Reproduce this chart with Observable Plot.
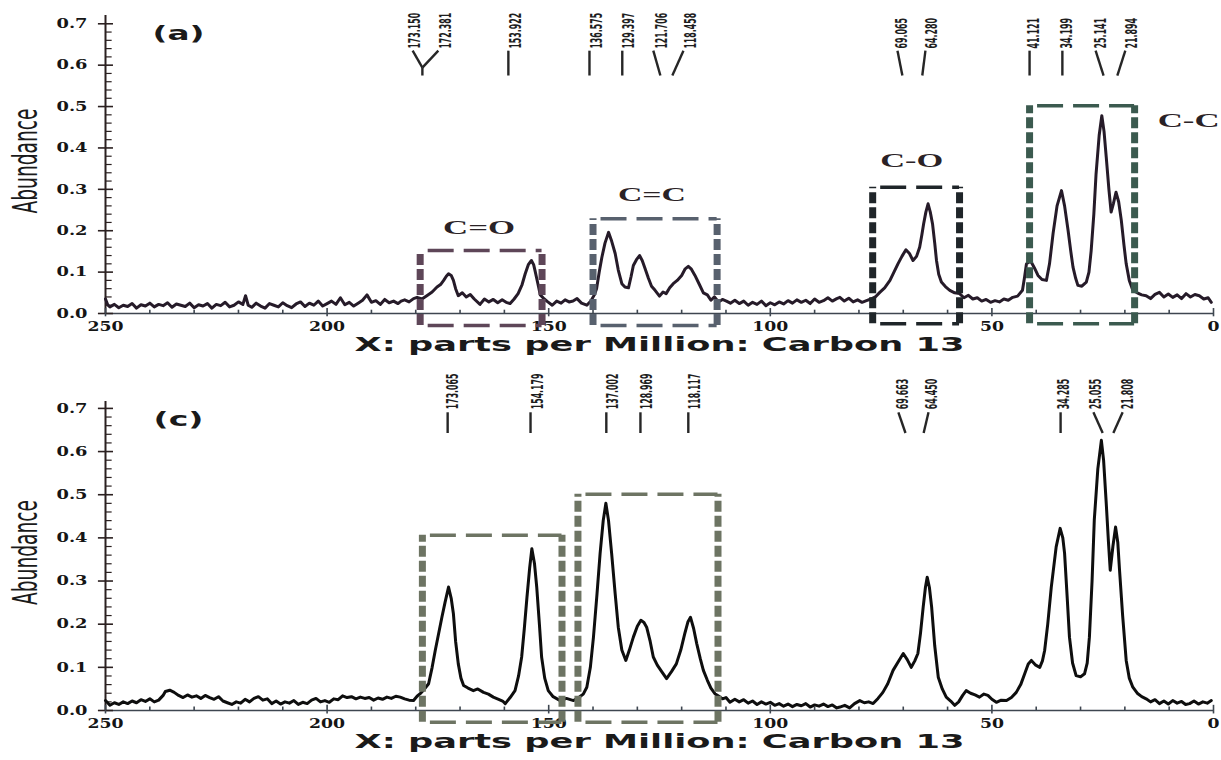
<!DOCTYPE html>
<html><head><meta charset="utf-8">
<script src="https://cdn.jsdelivr.net/npm/d3@7"></script>
<script src="https://cdn.jsdelivr.net/npm/@observablehq/plot@0.6"></script>
<style>
html,body{margin:0;padding:0;background:#fff;}
#chart{width:1221px;}
#chart svg{display:block;}
</style></head><body><div id="chart"></div>
<script>
// ---------- axes ----------
const xTickValues = [250, 200, 150, 100, 50, 0];
const xMinorTickValues = [240, 230, 220, 210, 190, 180, 170, 160, 140, 130, 120, 110, 90, 80, 70, 60, 40, 30, 20, 10];
const yTickValues = [0, 0.1, 0.2, 0.3, 0.4, 0.5, 0.6, 0.7];
const yMinorTickValues = [0.02, 0.04, 0.06, 0.08, 0.12, 0.14, 0.16, 0.18, 0.22, 0.24, 0.26, 0.28, 0.32, 0.34, 0.36, 0.38, 0.42, 0.44, 0.46, 0.48, 0.52, 0.54, 0.56, 0.58, 0.62, 0.64, 0.66, 0.68];
const xLabel = "X: parts per Million: Carbon 13";
const yLabel = "Abundance";

// ---------- panel (a) spectrum: [ppm, abundance] ----------
const spectrumA = [
[250,0.035],[249.5,0.021],[249,0.016],[248,0.022],[247,0.014],[246,0.02],[245,0.017],[244,0.024],[243,0.013],[242,0.021],[241,0.018],[240,0.025],[239,0.016],[238,0.022],[237,0.019],[236,0.026],[235,0.015],[234,0.023],[233,0.02],[232,0.017],[231,0.025],[230,0.014],[229,0.021],[228,0.018],[227,0.024],[226,0.013],[225,0.022],[224,0.019],[223,0.027],[222,0.016],[221,0.02],[220,0.028],[219,0.022],[218.4,0.043],[217.8,0.02],[217,0.015],[216,0.025],[215,0.018],[214,0.013],[213,0.024],[212,0.02],[211,0.016],[210,0.026],[209,0.019],[208,0.014],[207,0.023],[206,0.028],[205,0.017],[204,0.025],[203,0.02],[202,0.03],[201,0.018],[200,0.024],[199,0.03],[198,0.022],[197,0.038],[196,0.021],[195,0.027],[194,0.018],[193,0.025],[192,0.032],[191,0.045],[190,0.027],[189,0.031],[188,0.022],[187,0.034],[186,0.026],[185,0.03],[184,0.024],[183.3,0.03],[182.5,0.033],[181.5,0.028],[180.5,0.036],[179.7,0.039],[178.6,0.035],[177.5,0.043],[176.3,0.052],[175.2,0.064],[174.4,0.07],[173.7,0.08],[173.1,0.09],[172.6,0.096],[172.0,0.092],[171.5,0.08],[171.0,0.06],[170.4,0.043],[169.5,0.05],[168.6,0.04],[167.7,0.046],[166.8,0.035],[165.5,0.022],[164.5,0.035],[163.5,0.028],[162.5,0.034],[161.5,0.026],[160.5,0.033],[159.6,0.027],[158.7,0.024],[157.8,0.035],[156.9,0.048],[156.0,0.07],[155.3,0.096],[154.6,0.118],[153.9,0.128],[153.4,0.118],[153.1,0.104],[152.5,0.075],[151.9,0.045],[151.0,0.035],[150.2,0.028],[149.2,0.02],[148.2,0.03],[147.2,0.025],[146.3,0.033],[145.4,0.028],[144.5,0.03],[143.6,0.036],[142.6,0.025],[141.4,0.02],[140.5,0.03],[139.7,0.045],[139.2,0.06],[138.6,0.1],[138.0,0.136],[137.3,0.17],[136.5,0.196],[135.8,0.175],[135.0,0.145],[134.3,0.105],[133.5,0.072],[132.8,0.064],[132.0,0.062],[131.4,0.09],[130.9,0.116],[130.2,0.13],[129.5,0.14],[128.9,0.128],[128.3,0.11],[127.5,0.085],[126.8,0.066],[126.0,0.056],[125.0,0.042],[124.2,0.052],[123.5,0.048],[122.7,0.062],[121.9,0.072],[121.0,0.08],[120.0,0.092],[119.2,0.108],[118.5,0.114],[117.8,0.107],[117.0,0.092],[116.0,0.07],[115.1,0.05],[114.2,0.045],[113.4,0.032],[112.6,0.04],[111.7,0.028],[110.8,0.034],[109.9,0.03],[109.0,0.025],[108,0.032],[107,0.024],[106,0.03],[105,0.02],[104,0.027],[103,0.022],[102,0.03],[101,0.019],[100,0.026],[99,0.021],[98,0.028],[97,0.023],[96,0.031],[95,0.025],[94,0.033],[93,0.027],[92,0.032],[91,0.024],[90,0.035],[89,0.027],[88,0.031],[87,0.038],[86,0.03],[85,0.036],[84.3,0.039],[83.3,0.03],[82.3,0.037],[81.3,0.028],[80.3,0.033],[79.3,0.027],[78.3,0.031],[77.3,0.035],[76.3,0.04],[75.3,0.051],[74.2,0.062],[73.0,0.08],[72.1,0.1],[71.2,0.12],[70.3,0.138],[69.4,0.154],[68.6,0.145],[67.8,0.128],[67.0,0.138],[66.3,0.16],[65.8,0.19],[65.4,0.217],[64.9,0.245],[64.4,0.265],[63.9,0.245],[63.4,0.217],[62.9,0.17],[62.5,0.128],[62.0,0.095],[61.4,0.076],[60.5,0.065],[59.5,0.056],[58.4,0.05],[57.3,0.048],[56.3,0.038],[55.3,0.044],[54.3,0.035],[53.3,0.038],[52.3,0.03],[51.3,0.034],[50.3,0.027],[49.3,0.031],[48.3,0.028],[47.3,0.035],[46.3,0.032],[45.3,0.039],[44.2,0.042],[43.1,0.056],[42.6,0.09],[42.2,0.12],[41.6,0.125],[41.1,0.124],[40.4,0.11],[39.6,0.092],[38.7,0.082],[37.7,0.08],[37.0,0.12],[36.2,0.193],[35.3,0.26],[34.3,0.297],[33.6,0.26],[32.8,0.2],[32.2,0.15],[31.7,0.112],[31.1,0.085],[30.6,0.068],[29.7,0.066],[28.7,0.076],[28.1,0.1],[27.6,0.152],[27.0,0.24],[26.5,0.337],[25.8,0.43],[25.2,0.478],[24.7,0.44],[24.2,0.378],[23.6,0.3],[23.1,0.245],[22.6,0.265],[22.0,0.293],[21.4,0.27],[20.8,0.225],[20.2,0.165],[19.7,0.12],[19.0,0.08],[18.2,0.056],[17.2,0.05],[16.2,0.045],[15.2,0.043],[14.2,0.036],[13.2,0.046],[12.2,0.051],[11.2,0.04],[10.2,0.047],[9.2,0.039],[8.2,0.045],[7.2,0.036],[6.2,0.048],[5.2,0.04],[4.2,0.046],[3.2,0.043],[2.2,0.035],[1.2,0.038],[0.5,0.027]
];

// ---------- panel (c) spectrum: [ppm, abundance] ----------
const spectrumC = [
[250,0.023],[249,0.012],[248,0.018],[247,0.014],[246,0.02],[245,0.016],[244,0.022],[243,0.018],[242,0.025],[241,0.021],[240,0.027],[239,0.02],[238,0.024],[237,0.035],[236.5,0.044],[235.5,0.047],[234.5,0.042],[233.5,0.035],[232.5,0.03],[231.5,0.036],[230.5,0.031],[229.5,0.034],[228.5,0.028],[227.5,0.035],[226.5,0.03],[225.5,0.026],[224.5,0.032],[223.5,0.022],[222.5,0.018],[221.5,0.014],[220.5,0.02],[219.5,0.017],[218.5,0.026],[217.5,0.02],[216.5,0.028],[215.5,0.032],[214.5,0.024],[213.5,0.027],[212.5,0.016],[211.5,0.022],[210.5,0.015],[209.5,0.02],[208.5,0.017],[207.5,0.023],[206.5,0.014],[205.5,0.019],[204.5,0.016],[203.5,0.024],[202.5,0.028],[201.5,0.02],[200.5,0.023],[199.5,0.019],[198.5,0.027],[197.5,0.025],[196.5,0.034],[195.5,0.03],[194.5,0.032],[193.5,0.027],[192.5,0.031],[191.5,0.028],[190.5,0.03],[189.5,0.024],[188.5,0.029],[187.5,0.026],[186.5,0.031],[185.5,0.028],[184.5,0.033],[183.5,0.031],[182.5,0.027],[181.5,0.024],[180.5,0.023],[179.7,0.033],[179.0,0.039],[178.0,0.05],[177.1,0.062],[176.3,0.1],[175.6,0.139],[174.9,0.175],[174.1,0.216],[173.4,0.25],[172.6,0.286],[172.0,0.26],[171.5,0.224],[171.0,0.16],[170.4,0.108],[169.8,0.075],[169.2,0.058],[168.2,0.052],[167.0,0.046],[166.0,0.05],[164.7,0.042],[163.6,0.038],[162.5,0.031],[161.3,0.026],[160.4,0.022],[159.8,0.016],[158.7,0.03],[157.6,0.046],[156.8,0.08],[156.1,0.124],[155.5,0.19],[154.9,0.263],[154.3,0.33],[153.8,0.375],[153.2,0.34],[152.7,0.286],[152.1,0.2],[151.6,0.124],[150.9,0.075],[150.1,0.046],[149.0,0.032],[147.4,0.023],[146.0,0.028],[144.4,0.023],[143.0,0.032],[142.2,0.038],[141.4,0.054],[140.6,0.1],[139.9,0.17],[139.1,0.27],[138.4,0.364],[137.7,0.44],[137.1,0.48],[136.5,0.44],[135.8,0.364],[135.0,0.27],[134.3,0.193],[133.5,0.14],[132.6,0.116],[131.8,0.14],[130.9,0.17],[130.0,0.195],[129.2,0.209],[128.5,0.204],[127.9,0.193],[127.1,0.16],[126.4,0.124],[125.5,0.105],[124.5,0.09],[123.4,0.074],[122.3,0.09],[121.2,0.108],[120.2,0.14],[119.3,0.178],[118.6,0.205],[118.0,0.216],[117.3,0.19],[116.6,0.155],[115.8,0.12],[115.1,0.093],[114.2,0.07],[113.4,0.052],[112.5,0.039],[111.6,0.033],[110.8,0.027],[110.0,0.03],[109.1,0.019],[108,0.026],[107,0.02],[106,0.025],[105,0.017],[104,0.022],[103,0.014],[102,0.02],[101,0.015],[100,0.019],[99,0.012],[98,0.016],[97,0.01],[96,0.015],[95,0.009],[94,0.014],[93,0.011],[92,0.016],[91,0.008],[90,0.013],[89,0.01],[88,0.015],[87,0.009],[86,0.013],[85,0.006],[84.3,0.008],[83.2,0.012],[82.1,0.006],[81.0,0.016],[79.8,0.023],[78.8,0.018],[77.8,0.02],[76.8,0.016],[75.7,0.028],[74.6,0.042],[73.5,0.062],[72.3,0.093],[71.2,0.112],[70.0,0.132],[69.1,0.118],[68.2,0.1],[67.4,0.115],[66.7,0.132],[66.1,0.18],[65.5,0.24],[65.0,0.285],[64.6,0.309],[64.1,0.285],[63.6,0.24],[62.9,0.15],[62.1,0.077],[61.2,0.05],[60.3,0.031],[59.3,0.022],[58.4,0.012],[57.5,0.02],[56.6,0.035],[55.8,0.046],[54.8,0.04],[53.8,0.036],[52.8,0.031],[51.8,0.038],[50.9,0.035],[50.0,0.026],[49.0,0.019],[47.9,0.024],[46.7,0.023],[45.6,0.03],[44.5,0.042],[43.5,0.06],[42.6,0.085],[41.8,0.108],[41.1,0.116],[40.1,0.105],[39.2,0.1],[38.6,0.115],[38.1,0.139],[37.4,0.2],[36.6,0.286],[35.5,0.379],[34.6,0.422],[34.0,0.4],[33.6,0.364],[33.0,0.26],[32.5,0.17],[31.8,0.11],[31.0,0.081],[30.0,0.078],[29.1,0.085],[28.5,0.11],[28.0,0.17],[27.4,0.3],[26.9,0.441],[26.1,0.56],[25.3,0.626],[24.8,0.58],[24.2,0.48],[23.7,0.39],[23.3,0.325],[22.7,0.38],[22.1,0.425],[21.6,0.39],[21.2,0.325],[20.5,0.22],[19.7,0.116],[19.0,0.075],[18.2,0.054],[17.2,0.04],[16.2,0.032],[15.2,0.027],[14.2,0.02],[13.2,0.025],[12.2,0.016],[11.2,0.022],[10.2,0.015],[9.2,0.023],[8.2,0.017],[7.2,0.021],[6.3,0.014],[5.4,0.016],[4.4,0.022],[3.4,0.015],[2.4,0.02],[1.4,0.017],[0.5,0.023]
];

// ---------- dashed region boxes: [ppmLeft, ppmRight, abundanceBottom, abundanceTop] ----------
const boxesA = [[179.0, 151.5, -0.029, 0.152], [140.0, 112.0, -0.029, 0.229], [76.9, 57.3, -0.025, 0.305], [41.5, 17.8, -0.025, 0.502]];
const boxesC = [[178.5, 147.0, -0.027, 0.406], [143.4, 111.8, -0.027, 0.501]];
const boxColorsA = ["#5e4658", "#58616e", "#1f2529", "#3b5a4f"];
const boxColorsC = ["#6d7463", "#6d7463"];

// ---------- functional-group labels: [text, ppm, abundance] ----------
const groupLabelsA = [["C=O", 165.7, 0.205], ["C=C", 126.7, 0.285], ["C-O", 68.1, 0.367], ["C-C", 5.6, 0.464]];

// ---------- peak labels: [label, ppm of label] ----------
const peakLabelsA = [["173.150",180.05],["172.381",173.1],["153.922",157.3],["136.575",139.2],["129.397",131.8],["121.706",124.5],["118.458",117.8],["69.065",70.2],["64.280",63.4],["41.121",40.4],["34.199",33.0],["25.141",25.3],["21.894",18.3]];
const peakLabelsC = [["173.065",171.5],["154.179",152.5],["137.002",135.4],["128.969",127.7],["118.117",116.9],["69.663",70.0],["64.450",63.4],["34.285",33.8],["25.055",26.6],["21.808",19.2]];
// leader segments: [ppm1, abundance1, ppm2, abundance2]
const leadersA = [[180.7,0.635,178.5,0.594],[174.9,0.635,178.5,0.594],[178.5,0.594,178.5,0.575],[159.1,0.635,159.1,0.575],[140.8,0.635,140.8,0.575],[133.4,0.635,133.4,0.575],[126.4,0.635,124.8,0.575],[119.6,0.635,122.1,0.575],[71.3,0.635,70.2,0.575],[65.0,0.635,65.7,0.575],[41.5,0.635,41.5,0.575],[34.1,0.635,34.1,0.575],[26.6,0.635,24.8,0.575],[19.9,0.635,21.7,0.575]];
const leadersC = [[172.8,0.691,172.8,0.643],[154.1,0.691,154.1,0.643],[137.0,0.691,137.0,0.643],[129.3,0.691,129.3,0.643],[118.5,0.691,118.5,0.643],[71.1,0.691,69.5,0.643],[64.3,0.691,65.4,0.643],[34.5,0.691,34.5,0.643],[27.1,0.691,25.0,0.643],[20.5,0.691,22.6,0.643]];
const peakLabelBaseA = 0.640;
const peakLabelBaseC = 0.698;

const SERIF_BOLD = "'DejaVu Serif', 'Liberation Serif', serif";
const NARROW = "'Liberation Sans Narrow', 'DejaVu Sans Condensed', 'Roboto Condensed', sans-serif";

function panel(o) {
  const marks = [
    Plot.ruleX([250], {y1: 0, y2: o.yMax, stroke: "#2b2020", strokeWidth: 2}),
    Plot.ruleY([0], {x1: 250, x2: 0, stroke: "#3e4650", strokeWidth: 1.3}),
    Plot.ruleY(yTickValues, {x1: 251.6, x2: 248.2, stroke: "#2b2020", strokeWidth: 1.6}),
    Plot.ruleY(yMinorTickValues, {x1: 250, x2: 248.5, stroke: "#2b2020", strokeWidth: 1.2}),
    Plot.ruleX(xTickValues, {y1: -0.008, y2: 0.012, stroke: "#3e4650", strokeWidth: 1.6}),
    Plot.ruleX(xMinorTickValues, {y1: 0, y2: 0.008, stroke: "#3e4650", strokeWidth: 1.6}),
    Plot.text(yTickValues, {x: 250, y: d => d, dx: -18, textAnchor: "end", text: d => d.toFixed(1),
      fontFamily: SERIF_BOLD, fontWeight: "bold", fontSize: 13, fill: "#151515"}),
    Plot.text(xTickValues, {x: d => d, y: 0, dy: 13, text: d => String(d),
      fontFamily: SERIF_BOLD, fontWeight: "bold", fontSize: 13, fill: "#151515"}),
    Plot.line(o.spectrum, {x: d => d[0], y: d => d[1], stroke: o.lineColor, strokeWidth: 3, strokeLinejoin: "round"}),
    Plot.ruleX(o.boxes.flatMap((b, i) => [[b[0], b[2], b[3], i], [b[1], b[2], b[3], i]]),
      {x: d => d[0], y1: d => d[1], y2: d => d[2], stroke: d => o.boxColors[d[3]], strokeWidth: 7, strokeDasharray: "11,4"}),
    Plot.ruleY(o.boxes.flatMap((b, i) => [[b[2], b[0], b[1], i], [b[3], b[0], b[1], i]]),
      {y: d => d[0], x1: d => d[1], x2: d => d[2], stroke: d => o.boxColors[d[3]], strokeWidth: 3.5, strokeDasharray: "26,10", strokeDashoffset: -8}),
    Plot.text(o.groupLabels, {x: d => d[1], y: d => d[2], text: d => d[0],
      fontFamily: "'Liberation Serif', 'DejaVu Serif', serif", fontWeight: "bold", fontSize: 18, fill: "#2a2226"}),
    Plot.link(o.leaders, {x1: d => d[0], y1: d => d[1], x2: d => d[2], y2: d => d[3], stroke: "#262626", strokeWidth: 2.4}),
    Plot.text(o.peaks, {x: d => d[1], y: () => o.peakBase, text: d => d[0], rotate: -90, textAnchor: "start",
      fontFamily: NARROW, fontWeight: "bold", fontSize: 11, fill: "#1e1e1e"}),
    Plot.text([o.tag], {frameAnchor: "top-left", textAnchor: "middle", dx: 73, dy: 11, text: d => d,
      fontFamily: "'DejaVu Sans', sans-serif", fontWeight: "bold", fontSize: 19, fill: "#1a1a1a"}),
    Plot.text([yLabel], {frameAnchor: "left", textAnchor: "start", dx: -79, dy: 49, rotate: -90, text: d => d,
      fontFamily: NARROW, fontSize: 34, fill: "#1a1a1a"}),
    Plot.text([xLabel], {frameAnchor: "bottom", textAnchor: "middle", dy: o.xLabelDy, text: d => d,
      fontFamily: "'DejaVu Sans', sans-serif", fontWeight: "bold", fontSize: 20, fill: "#1a1a1a"})
  ];
  const svg = Plot.plot({
    width: 1221, height: o.height,
    marginLeft: 105, marginRight: 8, marginTop: o.marginTop, marginBottom: o.marginBottom,
    x: {domain: [250, 0], axis: null},
    y: {domain: [0, o.yMax], axis: null},
    style: {background: "white", overflow: "visible"},
    marks
  });
  fitTexts(svg);
  return svg;
}

const fixedLengths = new Map([[xLabel, 610], [yLabel, 105], ["(a)", 52], ["(c)", 50], ["C=O", 72], ["C=C", 68], ["C-O", 63], ["C-C", 62]]);
function fitTexts(svg) {
  svg.querySelectorAll("text").forEach(t => {
    const s = t.textContent;
    let L = null;
    if (fixedLengths.has(s)) L = fixedLengths.get(s);
    else if (/^\d+\.\d{3}$/.test(s)) {
      L = s.length * 5.1;
      // thicken the rotated peak labels across their baseline
      const tr = t.getAttribute("transform");
      if (tr) t.setAttribute("transform", tr + " scale(1,1.4)");
    }
    else if (/^0\.\d$/.test(s)) L = 31;
    else if (/^\d+$/.test(s)) L = s.length * 12;
    if (L) { t.setAttribute("textLength", L); t.setAttribute("lengthAdjust", "spacingAndGlyphs"); }
  });
}

const chart = document.getElementById("chart");
chart.appendChild(panel({
  spectrum: spectrumA, yMax: 0.72, height: 362, marginTop: 15, marginBottom: 49,
  lineColor: "#261b29", boxes: boxesA, boxColors: boxColorsA, groupLabels: groupLabelsA,
  peaks: peakLabelsA, leaders: leadersA, peakBase: peakLabelBaseA, tag: "(a)", xLabelDy: 37
}));
chart.appendChild(panel({
  spectrum: spectrumC, yMax: 0.716, height: 398, marginTop: 39, marginBottom: 50,
  lineColor: "#0e0e0e", boxes: boxesC, boxColors: boxColorsC, groupLabels: [],
  peaks: peakLabelsC, leaders: leadersC, peakBase: peakLabelBaseC, tag: "(c)", xLabelDy: 37
}));
</script></body></html>
